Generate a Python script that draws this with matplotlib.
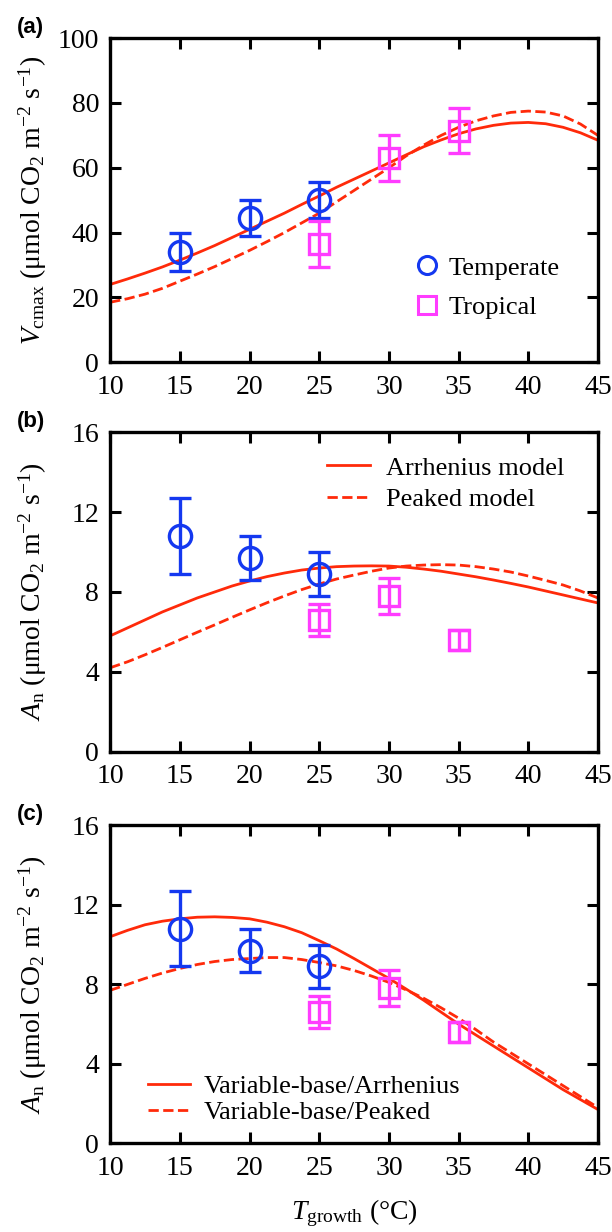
import matplotlib
matplotlib.use("Agg")
import matplotlib.pyplot as plt

plt.rcParams['font.family'] = ['Liberation Serif', 'DejaVu Serif']
plt.rcParams['mathtext.fontset'] = 'custom'
plt.rcParams['mathtext.rm'] = 'Liberation Serif'
plt.rcParams['mathtext.it'] = 'Liberation Serif:italic'
plt.rcParams['mathtext.bf'] = 'Liberation Serif:bold'

# observed data
temp_T = [15, 20, 25]
trop_T = [25, 30, 35]

vc_temp = [34, 44.5, 50]
vc_temp_err = [6, 5.5, 5.5]
vc_trop = [36.5, 63, 71.5]
vc_trop_err = [7, 7, 7]

an_temp = [10.8, 9.7, 8.9]
an_temp_err = [1.9, 1.1, 1.1]
an_trop = [6.6, 7.8, 5.6]
an_trop_err = [0.8, 0.9, 0.5]

# model curves
T_curve = [10, 11.25, 12.5, 13.75, 15, 16.25, 17.5, 18.75, 20, 21.25, 22.5, 23.75,
           25, 26.25, 27.5, 28.75, 30, 31.25, 32.5, 33.75, 35, 36.25, 37.5, 38.75,
           40, 41.25, 42.5, 43.75, 45]
vc_arr = [24, 25.7, 27.5, 29.4, 31.5, 33.7, 36, 38.5, 41, 43.5, 46, 48.7,
          51.3, 54, 56.5, 59, 61.5, 64, 66.5, 68.6, 70.5, 72, 73.1, 73.8,
          74, 73.6, 72.5, 70.8, 68.5]
vc_peak = [18.5, 19.6, 21, 22.8, 25, 27.2, 29.5, 32, 34.5, 37.2, 40, 43,
           46, 49.5, 53, 56.5, 60, 63.7, 67, 70, 72.5, 74.5, 76, 77.1,
           77.5, 77.2, 76, 73.5, 70]
an_arr = [5.8, 6.2, 6.6, 7.0, 7.35, 7.7, 8.0, 8.3, 8.55, 8.77, 8.95, 9.1,
          9.2, 9.27, 9.3, 9.31, 9.3, 9.24, 9.15, 9.04, 8.9, 8.76, 8.6, 8.43,
          8.25, 8.05, 7.85, 7.65, 7.45]
an_peak = [4.2, 4.5, 4.85, 5.22, 5.6, 5.98, 6.35, 6.73, 7.1, 7.46, 7.8, 8.12,
           8.4, 8.65, 8.85, 9.04, 9.2, 9.3, 9.35, 9.37, 9.35, 9.27, 9.15, 9.0,
           8.8, 8.58, 8.35, 8.05, 7.7]
an_vb_arr = [10.4, 10.72, 11.0, 11.18, 11.3, 11.38, 11.4, 11.37, 11.3, 11.13, 10.9, 10.6,
             10.2, 9.78, 9.3, 8.8, 8.3, 7.76, 7.2, 6.6, 6.0, 5.45, 4.9, 4.35,
             3.8, 3.25, 2.7, 2.2, 1.7]
an_vb_peak = [7.7, 8.0, 8.3, 8.57, 8.8, 9.0, 9.15, 9.25, 9.3, 9.35, 9.35, 9.25,
              9.1, 8.93, 8.7, 8.42, 8.1, 7.72, 7.3, 6.82, 6.3, 5.72, 5.1, 4.55,
              4.0, 3.45, 2.9, 2.35, 1.8]

blue = '#1438f0'
magenta = '#ff3cff'
red = '#ff2a0a'
fs = 20
lfs = 19

fig = plt.figure(figsize=(6.12, 12.32), dpi=100)
L, W = 0.18, 0.797
ax_a = fig.add_axes([L, 0.706, W, 0.263])
ax_b = fig.add_axes([L, 0.390, W, 0.259])
ax_c = fig.add_axes([L, 0.072, W, 0.258])


def style(ax, ymax, step):
    ax.set_xlim(10, 45)
    ax.set_ylim(0, ymax)
    ax.set_xticks(range(10, 46, 5))
    ax.set_yticks(range(0, ymax + 1, step))
    ax.tick_params(direction='in', length=8, width=2.2, labelsize=fs,
                   top=True, right=True)
    ax.tick_params(axis='x', pad=9)
    ax.tick_params(axis='y', pad=8)
    for s in ax.spines.values():
        s.set_linewidth(2.4)


def points(ax, yt, et, yp, ep):
    ax.errorbar(temp_T, yt, yerr=et, fmt='o', ms=16, mfc='none', mec=blue,
                mew=2.4, ecolor=blue, elinewidth=2.4, capsize=8, capthick=2.4,
                zorder=3)
    ax.errorbar(trop_T, yp, yerr=ep, fmt='s', ms=14.5, mfc='none', mec=magenta,
                mew=2.4, ecolor=magenta, elinewidth=2.4, capsize=8, capthick=2.4,
                zorder=3)


# (a)
ax_a.plot(T_curve, vc_arr, '-', color=red, lw=2)
ax_a.plot(T_curve, vc_peak, '--', color=red, lw=2)
points(ax_a, vc_temp, vc_temp_err, vc_trop, vc_trop_err)
style(ax_a, 100, 20)
h = [plt.Line2D([], [], ls='none', marker='o', ms=13, mfc='none', mec=blue, mew=2.2),
     plt.Line2D([], [], ls='none', marker='s', ms=13, mfc='none', mec=magenta, mew=2.2)]
ax_a.legend(h, ['Temperate', 'Tropical'], loc='lower right', bbox_to_anchor=(0.97, 0.06),
            frameon=False, fontsize=lfs, handletextpad=0.2, labelspacing=0.6,
            handlelength=1.2)
ax_a.set_ylabel(r'$V_{\mathrm{cmax}}$ ($\mathrm{\mu}$mol CO$_2$ m$^{-2}$ s$^{-1}$)', fontsize=fs)

# (b)
ax_b.plot(T_curve, an_arr, '-', color=red, lw=2, label='Arrhenius model')
ax_b.plot(T_curve, an_peak, '--', color=red, lw=2, label='Peaked model')
points(ax_b, an_temp, an_temp_err, an_trop, an_trop_err)
style(ax_b, 16, 4)
ax_b.legend(loc='upper right', bbox_to_anchor=(0.98, 1.0),
            frameon=False, fontsize=lfs, handlelength=1.65, handletextpad=0.6,
            labelspacing=0.3)
ax_b.set_ylabel(r'$A_{\mathrm{n}}$ ($\mathrm{\mu}$mol CO$_2$ m$^{-2}$ s$^{-1}$)', fontsize=fs)

# (c)
ax_c.plot(T_curve, an_vb_arr, '-', color=red, lw=2, label='Variable-base/Arrhenius')
ax_c.plot(T_curve, an_vb_peak, '--', color=red, lw=2, label='Variable-base/Peaked')
points(ax_c, an_temp, an_temp_err, an_trop, an_trop_err)
style(ax_c, 16, 4)
ax_c.legend(loc='lower left', bbox_to_anchor=(0.028, -0.015),
            frameon=False, fontsize=lfs, handlelength=1.6, handletextpad=0.53,
            labelspacing=0.1)
ax_c.set_ylabel(r'$A_{\mathrm{n}}$ ($\mathrm{\mu}$mol CO$_2$ m$^{-2}$ s$^{-1}$)', fontsize=fs)
ax_c.set_xlabel(r'$T_{\mathrm{growth}}$ (°C)', fontsize=fs, labelpad=12)

for ax, lab in [(ax_a, '(a)'), (ax_b, '(b)'), (ax_c, '(c)')]:
    ax.text(-0.192, 1.0, lab, transform=ax.transAxes, fontsize=16,
            fontweight='bold', family='Liberation Sans', va='bottom', ha='left')
    ax.yaxis.set_label_coords(-0.125, 0.5)

fig.savefig('out.png', dpi=100)
